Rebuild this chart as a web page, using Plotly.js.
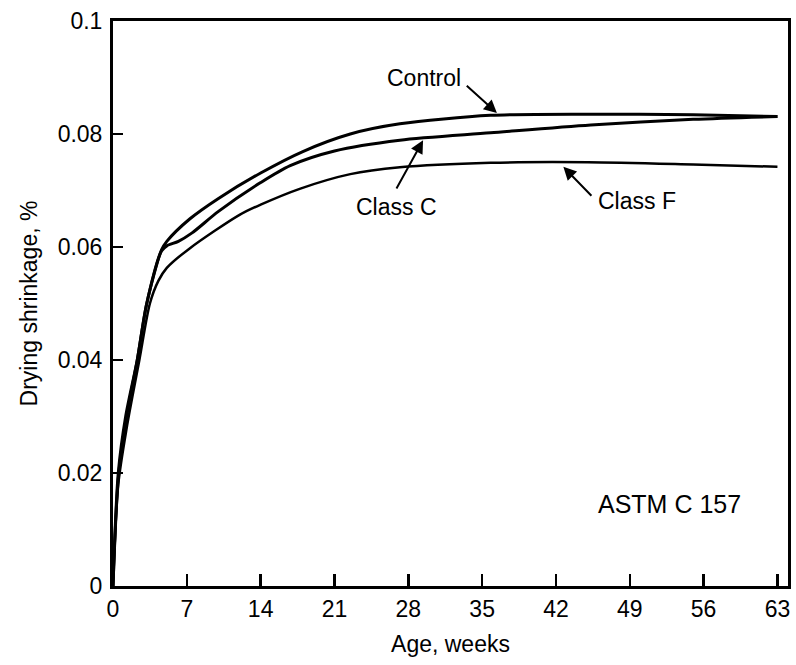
<!DOCTYPE html>
<html>
<head>
<meta charset="utf-8">
<script src="https://cdn.plot.ly/plotly-3.0.1.min.js"></script>
<style>html,body{margin:0;padding:0;background:#fff;}#chart{width:796px;height:665px;}</style>
</head>
<body>
<div id="chart"></div>
<script>
// Age in weeks and drying shrinkage (%)
const controlWeeks = [0, 0.5, 1.2, 2.3, 3.2, 4.6, 5.1, 7.3, 10, 14, 18, 22.5, 27.2, 35.8, 45, 55, 63];
const controlShrink = [0, 0.020, 0.030, 0.040, 0.050, 0.0595, 0.0610, 0.0650, 0.0686, 0.0731, 0.0769, 0.0800, 0.0818, 0.0833, 0.0835, 0.0834, 0.0831];

const classCWeeks = [0, 0.5, 1.2, 2.3, 3.2, 4.6, 5.1, 6.2, 7.5, 10, 14, 16.8, 21, 27.2, 35.8, 45.3, 55, 63];
const classCShrink = [0, 0.019, 0.029, 0.040, 0.050, 0.0593, 0.0602, 0.0610, 0.0625, 0.0663, 0.0714, 0.0744, 0.0770, 0.0789, 0.0802, 0.0816, 0.0826, 0.0831];

const classFWeeks = [0, 0.5, 1.3, 2.5, 3.5, 4.3, 5.1, 7.3, 12, 14, 17.7, 22.5, 27.2, 35.8, 45, 55, 63];
const classFShrink = [0, 0.018, 0.028, 0.040, 0.050, 0.0540, 0.0563, 0.0598, 0.0657, 0.0675, 0.0703, 0.0729, 0.0741, 0.0749, 0.0750, 0.0746, 0.0742];

const xTicks = [0, 7, 14, 21, 28, 35, 42, 49, 56, 63];
const yTicks = [0, 0.02, 0.04, 0.06, 0.08, 0.1];
const yTickText = ['0', '0.02', '0.04', '0.06', '0.08', '0.1'];

const font = {family: 'Liberation Sans, Arial, sans-serif', size: 23, color: '#000'};

const traces = [
  {x: controlWeeks, y: controlShrink, name: 'Control'},
  {x: classCWeeks, y: classCShrink, name: 'Class C'},
  {x: classFWeeks, y: classFShrink, name: 'Class F'}
].map((t, i) => Object.assign(t, {
  type: 'scatter', mode: 'lines',
  line: {color: '#000', width: i === 2 ? 2.5 : 3, shape: 'spline', smoothing: 0.8},
  hoverinfo: 'skip'
}));

function arrow(hx, hy, tx, ty) {
  return {x: hx, y: hy, ax: tx, ay: ty, xref: 'x', yref: 'y', axref: 'x', ayref: 'y',
    text: '', showarrow: true, arrowhead: 2, arrowsize: 1.3, arrowwidth: 2, arrowcolor: '#000'};
}
function label(txt, x, y, size) {
  return {x: x, y: y, xref: 'x', yref: 'y', text: txt, showarrow: false,
    font: Object.assign({}, font, size ? {size: size} : {})};
}

const layout = {
  width: 796, height: 665,
  margin: {l: 113, r: 8, t: 21, b: 79},
  paper_bgcolor: '#fff', plot_bgcolor: '#fff',
  showlegend: false,
  font: font,
  xaxis: {
    range: [0, 64], tickvals: xTicks, ticktext: xTicks.map(String),
    ticks: 'inside', ticklen: 12, tickwidth: 2.5, tickcolor: '#000',
    showline: true, mirror: true, linewidth: 3, linecolor: '#000',
    showgrid: false, zeroline: false,
    title: {text: 'Age, weeks', font: font, standoff: 16},
    tickfont: font
  },
  yaxis: {
    range: [0, 0.1], tickvals: yTicks, ticktext: yTickText,
    ticks: 'inside', ticklen: 10, tickwidth: 2.5, tickcolor: '#000',
    showline: true, mirror: true, linewidth: 3, linecolor: '#000',
    showgrid: false, zeroline: false, ticklabelstandoff: 3,
    title: {text: 'Drying shrinkage, %', font: font, standoff: 14},
    tickfont: font
  },
  annotations: [
    label('Control', 29.5, 0.0899),
    arrow(36.4, 0.0837, 33.4, 0.0888),
    label('Class C', 26.9, 0.0670),
    arrow(29.4, 0.0789, 26.8, 0.0701),
    label('Class F', 49.7, 0.0682),
    arrow(42.7, 0.0742, 45.5, 0.0688),
    label('ASTM C 157', 52.75, 0.0145, 25)
  ]
};

Plotly.newPlot('chart', traces, layout, {staticPlot: true});
</script>
</body>
</html>
